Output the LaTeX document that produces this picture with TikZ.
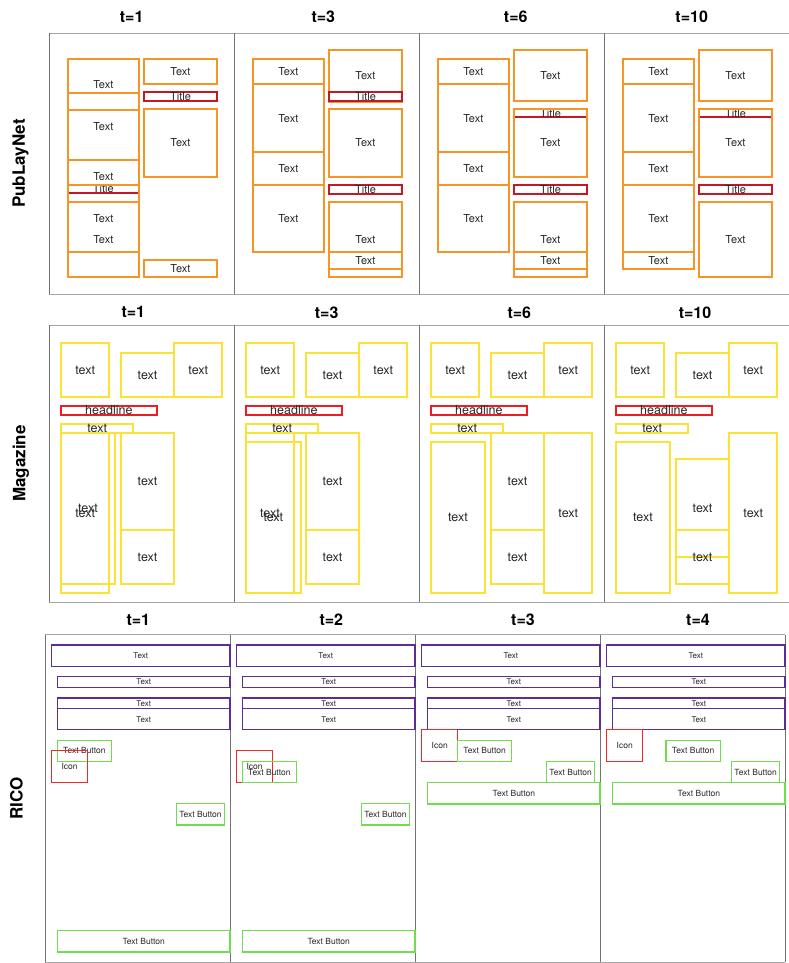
\documentclass[tikz,border=0pt]{standalone}
\usepackage{fontspec}
\setmainfont{TeX Gyre Heros}
\definecolor{porange}{RGB}{247,148,40}
\definecolor{ptred}{RGB}{196,24,36}
\definecolor{myellow}{RGB}{250,226,55}
\definecolor{mred}{RGB}{236,30,36}
\definecolor{rpurple}{RGB}{92,45,150}
\definecolor{rgreen}{RGB}{112,220,80}
\definecolor{rred}{RGB}{240,40,40}
\definecolor{hline}{RGB}{165,165,165}
\definecolor{vline}{RGB}{115,115,115}
\newcounter{bxn}
% #1 style, #2 x1, #3 y1, #4 x2, #5 y2, #6 label
\newcommand\bx[6]{\stepcounter{bxn}%
  \draw[#1] (#2,#3) rectangle (#4,#5);%
  \node[#1, draw=none, inner sep=0pt, text=black!85] (bx\arabic{bxn}) at ({(#2+#4)/2},{(#3+#5)/2}) {#6};}
\begin{document}
\begin{tikzpicture}[x=1pt,y=-1pt,
  pub/.style={draw=porange, line width=1.8pt, font=\fontsize{11}{11}\selectfont},
  ptit/.style={draw=ptred, line width=1.7pt, font=\fontsize{11}{11}\selectfont},
  mag/.style={draw=myellow, line width=1.9pt, font=\fontsize{12.5}{12.5}\selectfont},
  mhead/.style={draw=mred, line width=1.7pt, font=\fontsize{12.5}{12.5}\selectfont},
  rtxt/.style={draw=rpurple, line width=1.3pt, font=\fontsize{8}{8}\selectfont},
  rbtn/.style={draw=rgreen, line width=1.3pt, font=\fontsize{8.5}{8.5}\selectfont},
  ricon/.style={draw=rred, line width=1.3pt, font=\fontsize{8.5}{8.5}\selectfont},
  hframe/.style={draw=hline, line width=1pt},
  vframe/.style={draw=vline, line width=1pt},
  ttl/.style={font=\fontsize{16}{16}\selectfont\bfseries, inner sep=0pt},
  rowlbl/.style={font=\fontsize{17}{17}\selectfont\bfseries, rotate=90, inner sep=0pt}]
\useasboundingbox (0,0) rectangle (789,963);
\fill[white] (0,0) rectangle (789,963);

% ---------- frames ----------
\draw[hframe] (49.3,33.3) -- (789,33.3);
\draw[hframe] (49.3,294.3) -- (789,294.3);
\foreach \x in {49.3,234.3,419.3,604.3} \draw[vframe] (\x,33.3) -- (\x,294.3);
\draw[hframe] (49.3,325.3) -- (789,325.3);
\draw[hframe] (49.3,602.3) -- (789,602.3);
\foreach \x in {49.3,234.3,419.3,604.3} \draw[vframe] (\x,325.3) -- (\x,602.3);
\draw[hframe] (45.3,634.7) -- (785,634.7);
\draw[hframe] (45.3,962.3) -- (785,962.3);
\foreach \x in {45.3,230.3,415.5,600.5,785} \draw[vframe] (\x,634.7) -- (\x,962.3);

% ---------- titles ----------
\node[ttl] (tp1) at (131.7,16.5) {t=1};
\node[ttl] (tp3) at (323.3,16.5) {t=3};
\node[ttl] (tp6) at (515.7,16.5) {t=6};
\node[ttl] (tp10) at (691.7,16.5) {t=10};
\node[ttl] (tm1) at (133.3,312.3) {t=1};
\node[ttl] (tm3) at (326.7,312.3) {t=3};
\node[ttl] (tm6) at (519.3,312.3) {t=6};
\node[ttl] (tm10) at (695,312.3) {t=10};
\node[ttl] (tr1) at (138.3,620) {t=1};
\node[ttl] (tr2) at (331.3,620) {t=2};
\node[ttl] (tr3) at (523,620) {t=3};
\node[ttl] (tr4) at (698,620) {t=4};
\node[rowlbl] (lp) at (20.5,163.5) {PubLayNet};
\node[rowlbl] (lm) at (21,463.5) {Magazine};
\node[rowlbl] (lr) at (16.5,798.5) {RICO};

% ---------- PubLayNet t=1 ----------
\begin{scope}[shift={(49.3,0)}]
\bx{pub}{18.3}{59}{89.7}{110}{Text}
\bx{pub}{18.3}{93}{89.7}{160}{Text}
\bx{pub}{18.3}{160}{89.7}{193}{Text}
\bx{ptit}{18.3}{185}{89.7}{193}{Title}
\bx{pub}{18.3}{185}{89.7}{252}{Text}
\bx{pub}{18.3}{202}{89.7}{277}{Text}
\bx{pub}{95}{59}{167.4}{84.3}{Text}
\bx{ptit}{95}{92.3}{167.4}{101}{Title}
\bx{pub}{95}{109}{167.4}{176.7}{Text}
\bx{pub}{95}{260.3}{167.4}{277}{Text}
\end{scope}

% ---------- PubLayNet t=3 ----------
\begin{scope}[shift={(234.3,0)}]
\bx{pub}{18.3}{59}{89.7}{84.3}{Text}
\bx{pub}{18.3}{84.3}{89.7}{152}{Text}
\bx{pub}{18.3}{152}{89.7}{185.3}{Text}
\bx{pub}{18.3}{185.3}{89.7}{252}{Text}
\bx{pub}{95}{50.3}{167.4}{101.7}{Text}
\bx{ptit}{95}{92.3}{167.4}{101}{Title}
\bx{pub}{95}{109}{167.4}{176.7}{Text}
\bx{ptit}{95}{184.7}{167.4}{193.7}{Title}
\bx{pub}{95}{201.7}{167.4}{277}{Text}
\bx{pub}{95}{252}{167.4}{268.7}{Text}
\end{scope}

% ---------- PubLayNet t=6 ----------
\begin{scope}[shift={(419.3,0)}]
\bx{pub}{18.3}{59}{89.7}{84.3}{Text}
\bx{pub}{18.3}{84.3}{89.7}{152}{Text}
\bx{pub}{18.3}{152}{89.7}{185.3}{Text}
\bx{pub}{18.3}{185.3}{89.7}{252}{Text}
\bx{pub}{95}{50.3}{167.4}{101}{Text}
\bx{ptit}{95}{109}{167.4}{117.3}{Title}
\bx{pub}{95}{109}{167.4}{176.7}{Text}
\bx{ptit}{95}{184.7}{167.4}{193.7}{Title}
\bx{pub}{95}{201.7}{167.4}{277}{Text}
\bx{pub}{95}{252}{167.4}{268.7}{Text}
\end{scope}

% ---------- PubLayNet t=10 ----------
\begin{scope}[shift={(604.3,0)}]
\bx{pub}{18.3}{59}{89.7}{84.3}{Text}
\bx{pub}{18.3}{84.3}{89.7}{152}{Text}
\bx{pub}{18.3}{152}{89.7}{185.3}{Text}
\bx{pub}{18.3}{185.3}{89.7}{252}{Text}
\bx{pub}{18.3}{252}{89.7}{268.7}{Text}
\bx{pub}{95}{50.3}{167.4}{101}{Text}
\bx{ptit}{95}{109}{167.4}{117.3}{Title}
\bx{pub}{95}{109}{167.4}{176.7}{Text}
\bx{ptit}{95}{184.7}{167.4}{193.7}{Title}
\bx{pub}{95}{201.7}{167.4}{277}{Text}
\end{scope}

% ---------- Magazine ----------
\foreach \off in {49.3,234.3,419.3,604.3}{
\begin{scope}[shift={(\off,0)}]
\bx{mag}{11.7}{343.3}{60}{397.3}{text}
\bx{mag}{71.5}{352.7}{125}{397.3}{text}
\bx{mag}{125}{343.3}{173}{397.3}{text}
\bx{mhead}{11.7}{406}{107.4}{415}{headline}
\bx{mag}{11.7}{423.7}{84}{432.7}{text}
\end{scope}}

\begin{scope}[shift={(49.3,0)}]
\bx{mag}{11.7}{432.7}{65.7}{584}{text}
\bx{mag}{11.7}{432.7}{60}{593.3}{text}
\bx{mag}{71.5}{432.7}{125}{530.3}{text}
\bx{mag}{71.5}{530.3}{125}{584}{text}
\end{scope}
\begin{scope}[shift={(234.3,0)}]
\bx{mag}{11.7}{432.7}{59.7}{593.3}{text}
\bx{mag}{11.7}{441.7}{66.4}{593.3}{text}
\bx{mag}{71.5}{432.7}{125}{530.3}{text}
\bx{mag}{71.5}{530.3}{125}{584}{text}
\end{scope}
\begin{scope}[shift={(419.3,0)}]
\bx{mag}{11.7}{441.7}{65.7}{593.3}{text}
\bx{mag}{71.5}{432.7}{125}{530.3}{text}
\bx{mag}{71.5}{530.3}{125}{584}{text}
\bx{mag}{125}{432.7}{173}{593.3}{text}
\end{scope}
\begin{scope}[shift={(604.3,0)}]
\bx{mag}{11.7}{441.7}{65.7}{593.3}{text}
\bx{mag}{71.5}{459.3}{125}{557}{text}
\bx{mag}{71.5}{530.3}{125}{584}{text}
\bx{mag}{125}{432.7}{173}{593.3}{text}
\end{scope}

% ---------- RICO ----------
\foreach \off in {45.3,230.3,415.5,600.5}{
\begin{scope}[shift={(\off,0)}]
\bx{rtxt}{6.2}{645}{184.6}{666.3}{Text}
\bx{rtxt}{12.2}{676.7}{184.6}{687.3}{Text}
\bx{rtxt}{12.2}{698}{184.6}{708.7}{Text}
\bx{rtxt}{12.2}{708.7}{184.6}{729.7}{Text}
\end{scope}}

\begin{scope}[shift={(45.3,0)}]
\bx{rbtn}{12.2}{740.3}{66}{761.3}{Text Button}
\bx{ricon}{6.2}{750.7}{42.3}{782.7}{Icon}
\bx{rbtn}{131}{803.7}{179.3}{825}{Text Button}
\bx{rbtn}{12.2}{930.7}{184.6}{952}{Text Button}
\end{scope}
\begin{scope}[shift={(230.3,0)}]
\bx{ricon}{6.2}{750.7}{42.3}{782.7}{Icon}
\bx{rbtn}{12.2}{761.7}{66}{782.7}{Text Button}
\bx{rbtn}{131}{803.7}{179.3}{825}{Text Button}
\bx{rbtn}{12.2}{930.7}{184.6}{952}{Text Button}
\end{scope}
\begin{scope}[shift={(415.5,0)}]
\bx{ricon}{6.2}{729.7}{42.3}{761.7}{Icon}
\bx{rbtn}{42.3}{740.3}{96}{761.3}{Text Button}
\bx{rbtn}{131}{761.7}{179.3}{782.7}{Text Button}
\bx{rbtn}{12.2}{782.7}{184.6}{804}{Text Button}
\end{scope}
\begin{scope}[shift={(600.5,0)}]
\bx{ricon}{6.2}{729.7}{42.3}{761.7}{Icon}
\bx{rbtn}{65.5}{740.3}{119.8}{761.3}{Text Button}
\bx{rbtn}{131}{761.7}{179.3}{782.7}{Text Button}
\bx{rbtn}{12.2}{782.7}{184.6}{804}{Text Button}
\end{scope}
\end{tikzpicture}
\end{document}
